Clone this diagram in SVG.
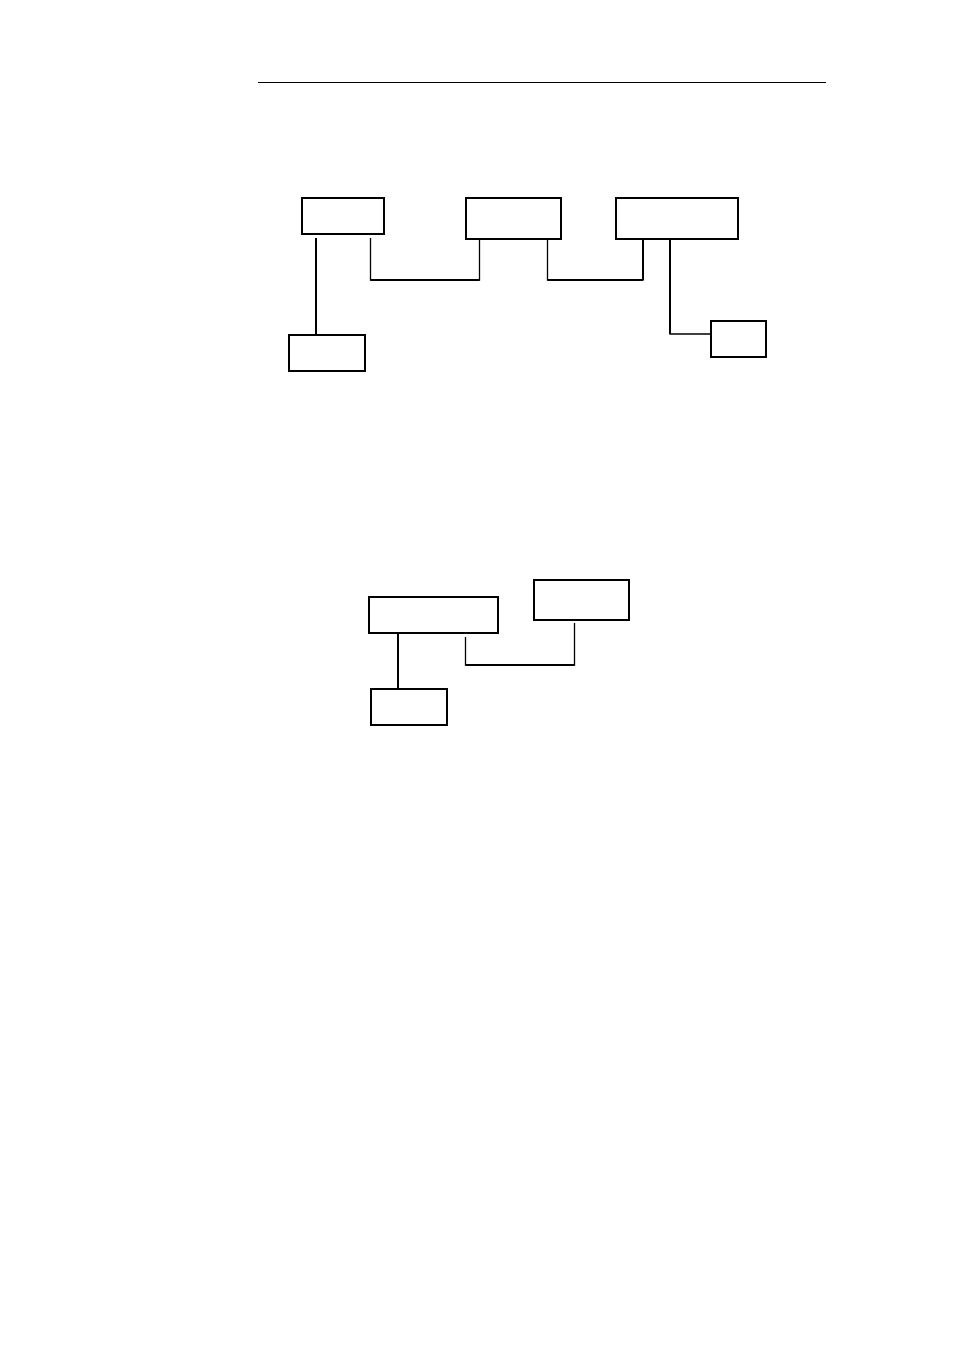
<svg xmlns="http://www.w3.org/2000/svg" width="954" height="1352" viewBox="0 0 954 1352">
<style>
.box{fill:#fff;stroke:#000;stroke-width:2}
.thick{fill:none;stroke:#000;stroke-width:2}
.thin{fill:none;stroke:#000;stroke-width:1.3}
</style>
<rect width="954" height="1352" fill="#fff"/>
<line x1="258" y1="82.5" x2="826" y2="82.5" stroke="#000" stroke-width="1"/>
<g id="connectors">
<line class="thick" x1="316" y1="238" x2="316" y2="334"/>
<polyline class="thin" points="370.5,238 370.5,280 479.5,280 479.5,239"/>
<line class="thick" x1="370.5" y1="280" x2="479.5" y2="280"/>
<polyline class="thin" points="547.5,239 547.5,280 643,280 643,239"/>
<line class="thick" x1="547.5" y1="280" x2="643" y2="280"/>
<line class="thick" x1="643" y1="239" x2="643" y2="280"/>
<polyline class="thin" points="670,239 670,334 711,334"/>
<line class="thick" x1="670" y1="239" x2="670" y2="334"/>
<polyline class="thin" points="465.5,637 465.5,665 574.5,665 574.5,623"/>
<line class="thick" x1="465.5" y1="665" x2="574.5" y2="665"/>
<line class="thick" x1="398" y1="633" x2="398" y2="688"/>
</g>
<g id="nodeA"><rect class="box" x="302" y="198" width="82" height="36"/></g>
<g id="nodeB"><rect class="box" x="289" y="335" width="76" height="36"/></g>
<g id="nodeC"><rect class="box" x="466" y="198" width="95" height="41"/></g>
<g id="nodeD"><rect class="box" x="616" y="198" width="122" height="41"/></g>
<g id="nodeE"><rect class="box" x="711" y="321" width="55" height="36"/></g>
<g id="nodeF"><rect class="box" x="369" y="597" width="129" height="36"/></g>
<g id="nodeG"><rect class="box" x="534" y="580" width="95" height="40"/></g>
<g id="nodeH"><rect class="box" x="371" y="689" width="76" height="36"/></g>
</svg>
